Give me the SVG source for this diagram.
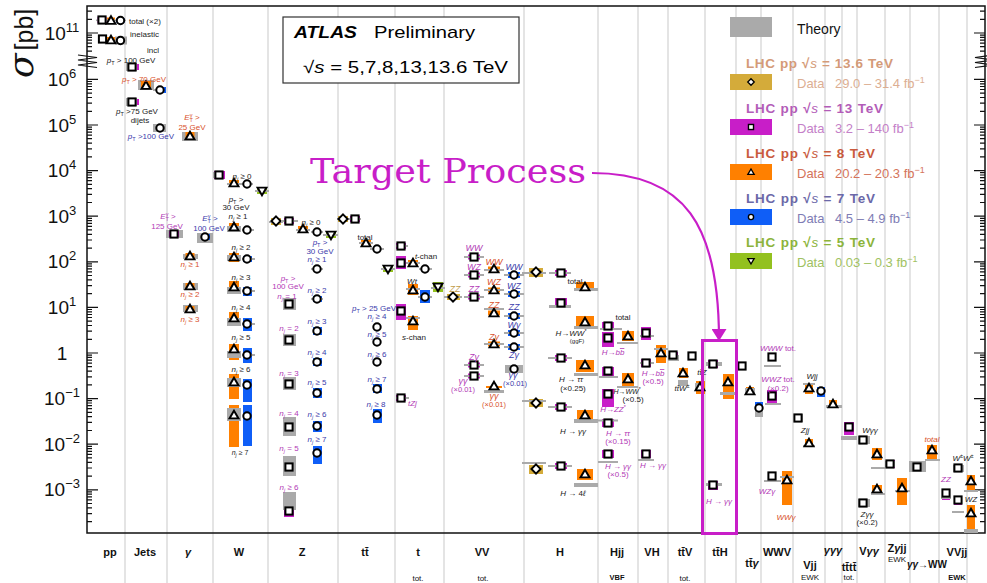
<svg xmlns="http://www.w3.org/2000/svg" width="987" height="583" viewBox="0 0 987 583">
<style>
svg{font-family:"Liberation Sans",Arial,sans-serif}
.th{fill:#aaaaaa}
.c6{fill:#d4ab3a}
.c3{fill:#c81ec8}
.c8{fill:#ff8000}
.c7{fill:#0f5ef7}
.c5{fill:#93c11f}
.sep{stroke:#dedede;stroke-width:1.6;fill:none}
.fr{stroke:#111;stroke-width:1.5;fill:none}
.tk{stroke:#111;stroke-width:1.2;fill:none}
.yl{font-size:19px;text-anchor:middle;fill:#111}
.cat{font-size:11px;font-weight:bold;text-anchor:middle;fill:#111}
.sm{font-size:8px;text-anchor:middle;fill:#111}
.l{font-size:8px;text-anchor:middle}
.l9{font-size:9px;text-anchor:middle;font-style:italic}
.i{font-style:italic}
.k{fill:#222}
.m{fill:#b23ab6}
.r{fill:#d8512c}
.b{fill:#3b3bab}
.g{fill:#c09a48}
.lt{font-size:13.5px;font-weight:bold}
.ld{font-size:13px}
</style>
<defs>
<rect id="sq" x="-3.6" y="-3.6" width="7.2" height="7.2" fill="#fff" stroke="#000" stroke-width="2"/>
<path id="tr" d="M0,-4.3 L4.5,3.4 L-4.5,3.4Z" fill="#fff" stroke="#000" stroke-width="1.9"/>
<circle id="ci" r="3.7" fill="#fff" stroke="#000" stroke-width="2"/>
<path id="di" d="M0,-4.6 L4.6,0 L0,4.6 L-4.6,0Z" fill="#fff" stroke="#000" stroke-width="1.9"/>
<path id="it" d="M0,4.3 L4.5,-3.4 L-4.5,-3.4Z" fill="#fff" stroke="#000" stroke-width="1.9"/>
<marker id="ah" viewBox="0 0 12 15" refX="11" refY="7.5" markerWidth="12" markerHeight="15" orient="auto" markerUnits="userSpaceOnUse">
<path d="M0,0 L12,7.5 L0,15Z" fill="#c81ec8"/>
</marker>
<g id="ticks">
<path class="tk" d="M87,33h11M87,79.4h11M87,125h11M87,170.6h11M87,216.2h11M87,261.8h11M87,307.4h11M87,353h11M87,398.6h11M87,444.2h11M87,489.8h11"/>
<path class="tk" d="M87,11.2h5M87,19.3h5M87,35.1h5M87,37.4h5M87,40.1h5M87,43.1h5M87,46.7h5M87,51.1h5M87,81.5h5M87,83.8h5M87,86.5h5M87,89.5h5M87,93.1h5M87,97.5h5M87,103.2h5M87,111.3h5M87,127.1h5M87,129.4h5M87,132.1h5M87,135.1h5M87,138.7h5M87,143.1h5M87,148.8h5M87,156.9h5M87,172.7h5M87,175h5M87,177.7h5M87,180.7h5M87,184.3h5M87,188.7h5M87,194.4h5M87,202.5h5M87,218.3h5M87,220.6h5M87,223.3h5M87,226.3h5M87,229.9h5M87,234.3h5M87,240h5M87,248.1h5M87,263.9h5M87,266.2h5M87,268.9h5M87,271.9h5M87,275.5h5M87,279.9h5M87,285.6h5M87,293.7h5M87,309.5h5M87,311.8h5M87,314.5h5M87,317.5h5M87,321.1h5M87,325.5h5M87,331.2h5M87,339.3h5M87,355.1h5M87,357.4h5M87,360.1h5M87,363.1h5M87,366.7h5M87,371.1h5M87,376.8h5M87,384.9h5M87,400.7h5M87,403h5M87,405.7h5M87,408.7h5M87,412.3h5M87,416.7h5M87,422.4h5M87,430.5h5M87,446.3h5M87,448.6h5M87,451.3h5M87,454.3h5M87,457.9h5M87,462.3h5M87,468h5M87,476.1h5M87,491.9h5M87,494.2h5M87,496.9h5M87,499.9h5M87,503.5h5M87,507.9h5M87,513.6h5M87,521.7h5"/>
<rect x="84" y="55" width="8" height="13" fill="#fff"/>
<polyline points="78,55 97,57.5 78,60 97,62.5 78,65 97,67.5" fill="none" stroke="#111" stroke-width="1.2"/>
</g>
</defs>

<rect width="987" height="583" fill="#fff"/>

<g id="grid">
<path class="sep" d="M125,6V583M167,6V583M213,6V583M268,6V583M338,6V583M395,6V583M444,6V583M524,6V583M598,6V583M638,6V583M668,6V583M705,6V583M736,6V583M761,6V583M793,6V583M825,6V583M842,6V583M857,6V583M885,6V583M910,6V583M939,6V583M967,6V583"/>
</g>

<g id="axes">
<use href="#ticks"/>
<use href="#ticks" transform="translate(1072,0) scale(-1,1)"/>
<path class="fr" d="M87,6H985V533H87Z"/>
<text class="yl" x="62" y="40">10<tspan font-size="13" dy="-8">11</tspan></text>
<text class="yl" x="62" y="86">10<tspan font-size="13" dy="-8">6</tspan></text>
<text class="yl" x="62" y="132">10<tspan font-size="13" dy="-8">5</tspan></text>
<text class="yl" x="62" y="177">10<tspan font-size="13" dy="-8">4</tspan></text>
<text class="yl" x="62" y="223">10<tspan font-size="13" dy="-8">3</tspan></text>
<text class="yl" x="62" y="268">10<tspan font-size="13" dy="-8">2</tspan></text>
<text class="yl" x="62" y="314">10<tspan font-size="13" dy="-8">1</tspan></text>
<text class="yl" x="62" y="360">1</text>
<text class="yl" x="62" y="405">10<tspan font-size="13" dy="-8">−1</tspan></text>
<text class="yl" x="62" y="451">10<tspan font-size="13" dy="-8">−2</tspan></text>
<text class="yl" x="62" y="496">10<tspan font-size="13" dy="-8">−3</tspan></text>
<text transform="translate(33,78) rotate(-90)" fill="#111"><tspan font-family="'DejaVu Serif',serif" font-style="italic" font-size="36">σ</tspan><tspan font-size="25" dx="3">[pb]</tspan></text>
<text class="cat" x="110" y="556">pp</text>
<text class="cat" x="145" y="556">Jets</text>
<text class="cat i" x="188" y="556">γ</text>
<text class="cat" x="239" y="556">W</text>
<text class="cat" x="302" y="556">Z</text>
<text class="cat" x="365" y="556">tt&#x304;</text>
<text class="cat" x="418" y="556">t</text>
<text class="cat" x="482" y="556">VV</text>
<text class="cat" x="560" y="556">H</text>
<text class="cat" x="617" y="556">Hjj</text>
<text class="cat" x="652" y="556">VH</text>
<text class="cat" x="685" y="556">tt&#x304;V</text>
<text class="cat" x="720" y="556">tt&#x304;H</text>
<text class="cat" x="777" y="556">WWV</text>
<text class="cat i" x="833" y="554">γγγ</text>
<text class="cat" x="869" y="555">V<tspan class="i">γγ</tspan></text>
<text class="cat" x="897" y="552">Z<tspan class="i">γ</tspan>jj</text>
<text class="cat" x="957" y="556">VVjj</text>
<text class="cat" x="752" y="567">tt&#x304;<tspan class="i">γ</tspan></text>
<text class="cat" x="810" y="569">Vjj</text>
<text class="cat" x="849" y="571">tt&#x304;tt&#x304;</text>
<text class="cat" x="927" y="568" style="font-size:10px"><tspan class="i">γγ</tspan>→WW</text>
<text class="sm" x="418" y="581">tot.</text>
<text class="sm" x="483" y="581">tot.</text>
<text class="sm" x="617" y="580" style="font-size:7.5px;font-weight:bold">VBF</text>
<text class="sm" x="685" y="581">tot.</text>
<text class="sm" x="810" y="580">EWK</text>
<text class="sm" x="849" y="580">tot.</text>
<text class="sm" x="897" y="562">EWK</text>
<text class="sm" x="957" y="580" style="font-size:7.5px;font-weight:bold">EWK</text>
</g>

<g id="atlas-box">
<rect x="283" y="17" width="236" height="66" fill="#fff" stroke="#333" stroke-width="1.2"/>
<text x="294" y="38" font-size="17" font-weight="bold" font-style="italic" textLength="63" lengthAdjust="spacingAndGlyphs" fill="#000">ATLAS</text>
<text x="374" y="38" font-size="17" textLength="101" lengthAdjust="spacingAndGlyphs" fill="#000">Preliminary</text>
<text x="303" y="73" font-size="17" textLength="205" lengthAdjust="spacingAndGlyphs" fill="#000">√<tspan class="i">s</tspan> = 5,7,8,13,13.6 TeV</text>
</g>

<g id="n-pp">
<rect class="c3" x="97.5" y="17" width="9" height="6"/><rect class="c8" x="107" y="17.5" width="8" height="6"/><rect class="c7" x="116.5" y="18" width="8" height="5"/>
<rect class="th" x="96" y="19.5" width="30" height="1.6"/>
<rect class="c3" x="98" y="36" width="9" height="6"/><rect class="c8" x="107" y="37" width="8" height="6"/><rect class="c7" x="116" y="37.5" width="9" height="6"/>
<rect class="th" x="115" y="36.5" width="12" height="8"/>
<use href="#sq" x="102" y="20"/><use href="#tr" x="111" y="20.5"/><use href="#ci" x="120.5" y="20.5"/>
<use href="#sq" x="102.5" y="39"/><use href="#tr" x="111" y="40"/><use href="#ci" x="120.5" y="40.5"/>
<text class="l k" x="129" y="24" style="text-anchor:start">total (×2)</text>
<text class="l k" x="130" y="37" style="text-anchor:start">inelastic</text>
</g>

<g id="n-jets">
<rect class="c3" x="127" y="64" width="12" height="6"/><rect class="th" x="126" y="63" width="11" height="8"/><use href="#sq" x="132" y="67"/>
<rect class="th" x="138" y="80" width="16" height="10"/><rect class="c8" x="141" y="81" width="10" height="8"/><use href="#tr" x="146" y="85.5"/>
<rect class="c7" x="157" y="87" width="9" height="6"/><rect class="th" x="153" y="89" width="6" height="2"/><use href="#ci" x="160" y="90"/>
<rect class="c3" x="127" y="99" width="12" height="6"/><rect class="th" x="126" y="98" width="11" height="8"/><use href="#sq" x="132" y="102"/>
<rect class="th" x="153" y="124" width="13" height="8"/><use href="#ci" x="160" y="128"/>
<text class="l k" x="153" y="53">incl</text>
<text class="l k" x="131" y="63"><tspan class="i">p</tspan><tspan font-size="5.5" dy="1.5">T</tspan><tspan dy="-1.5"> &gt; 100 GeV</tspan></text>
<text class="l r" x="144" y="82"><tspan class="i">p</tspan><tspan font-size="5.5" dy="1.5">T</tspan><tspan dy="-1.5"> &gt; 70 GeV</tspan></text>
<text class="l k" x="137" y="114"><tspan class="i">p</tspan><tspan font-size="5.5" dy="1.5">T</tspan><tspan dy="-1.5"> &gt;75 GeV</tspan></text>
<text class="l k" x="140" y="123">dijets</text>
<text class="l b" x="151" y="139"><tspan class="i">p</tspan><tspan font-size="5.5" dy="1.5">T</tspan><tspan dy="-1.5"> &gt;100 GeV</tspan></text>
</g>

<g id="n-gamma">
<rect class="th" x="182" y="132" width="16" height="9"/><rect class="c8" x="185.5" y="132" width="9" height="7"/><use href="#tr" x="190" y="136"/>
<rect class="th" x="166" y="230" width="17" height="8"/><rect class="c3" x="169" y="231" width="10" height="6"/><use href="#sq" x="174" y="234"/>
<rect class="th" x="197" y="233" width="16" height="10"/><rect class="c7" x="201" y="234" width="9" height="6"/><use href="#ci" x="205" y="237"/>
<rect class="th" x="183" y="254" width="15" height="5"/><rect class="c8" x="185.5" y="253" width="9" height="7"/><use href="#tr" x="190" y="256"/>
<rect class="th" x="183" y="283" width="15" height="7"/><rect class="c8" x="185.5" y="283" width="9" height="7"/><use href="#tr" x="190" y="286"/>
<rect class="th" x="183" y="305" width="15" height="7"/><rect class="c8" x="185.5" y="306" width="9" height="7"/><use href="#tr" x="190" y="309"/>
<text class="l r" x="192" y="120"><tspan class="i">E</tspan><tspan font-size="5.5" dy="-3">γ</tspan><tspan font-size="5.5" dx="-3" dy="5">T</tspan><tspan dy="-2"> &gt;</tspan></text>
<text class="l r" x="192" y="130">25 GeV</text>
<text class="l m" x="168" y="219"><tspan class="i">E</tspan><tspan font-size="5.5" dy="-3">γ</tspan><tspan font-size="5.5" dx="-3" dy="5">T</tspan><tspan dy="-2"> &gt;</tspan></text>
<text class="l m" x="167" y="229">125 GeV</text>
<text class="l b" x="210" y="221"><tspan class="i">E</tspan><tspan font-size="5.5" dy="-3">γ</tspan><tspan font-size="5.5" dx="-3" dy="5">T</tspan><tspan dy="-2"> &gt;</tspan></text>
<text class="l b" x="209" y="231">100 GeV</text>
<text class="l r" x="190" y="267"><tspan class="i">n</tspan><tspan class="i" font-size="5.5" dy="1.5">j</tspan><tspan dy="-1.5"> ≥ 1</tspan></text>
<text class="l r" x="190" y="297"><tspan class="i">n</tspan><tspan class="i" font-size="5.5" dy="1.5">j</tspan><tspan dy="-1.5"> ≥ 2</tspan></text>
<text class="l r" x="190" y="322"><tspan class="i">n</tspan><tspan class="i" font-size="5.5" dy="1.5">j</tspan><tspan dy="-1.5"> ≥ 3</tspan></text>
</g>

<g id="n-W">
<rect class="c3" x="214" y="171" width="11" height="8"/><rect class="th" x="213" y="172" width="10" height="6"/><use href="#sq" x="219" y="175"/>
<rect class="c8" x="229" y="180" width="10" height="7"/><rect class="th" x="227" y="183" width="14" height="2"/><use href="#tr" x="234" y="183"/>
<rect class="th" x="241" y="183" width="12" height="2"/><use href="#ci" x="247" y="184"/>
<rect class="c5" x="257" y="188" width="10" height="6"/><rect class="th" x="255" y="190" width="14" height="2"/><use href="#it" x="262" y="191"/>
<rect class="c8" x="229" y="223" width="10" height="8"/><rect class="th" x="227" y="226" width="14" height="6"/><use href="#tr" x="234" y="227"/>
<rect class="th" x="242" y="229" width="12" height="2"/><use href="#ci" x="247" y="230"/>
<rect class="c8" x="229" y="253" width="10" height="9"/><rect class="th" x="227" y="255" width="14" height="6"/><use href="#tr" x="234" y="257"/>
<rect class="c7" x="243" y="256" width="9" height="6"/><rect class="th" x="242" y="258" width="13" height="2"/><use href="#ci" x="247" y="259"/>
<rect class="c8" x="229" y="281" width="10" height="13"/><rect class="th" x="227" y="287" width="14" height="7"/><use href="#tr" x="234" y="287"/>
<rect class="c7" x="243" y="287" width="9" height="9"/><rect class="th" x="242" y="290" width="13" height="2"/><use href="#ci" x="247" y="291"/>
<rect class="c8" x="229" y="312" width="10" height="12"/><rect class="th" x="227" y="318" width="14" height="8"/><use href="#tr" x="234" y="318"/>
<rect class="c7" x="243" y="318" width="9" height="13"/><rect class="th" x="242" y="323" width="13" height="2"/><use href="#ci" x="247" y="324"/>
<rect class="c8" x="229" y="344" width="10" height="16"/><rect class="th" x="227" y="351" width="14" height="7"/><use href="#tr" x="234" y="349"/>
<rect class="c7" x="243" y="348" width="9" height="15"/><rect class="th" x="242" y="354" width="13" height="2"/><use href="#ci" x="247" y="355"/>
<rect class="c8" x="229" y="374" width="10" height="25"/><rect class="th" x="227" y="378" width="14" height="9"/><use href="#tr" x="234" y="382"/>
<rect class="c7" x="243" y="379" width="9" height="23"/><use href="#ci" x="247" y="385"/>
<rect class="c8" x="229" y="405" width="10" height="42"/><rect class="th" x="227" y="408" width="14" height="13"/><use href="#tr" x="234" y="415"/>
<rect class="c7" x="243" y="405" width="9" height="41"/><use href="#ci" x="247" y="416"/>
<text class="l k" x="242" y="179"><tspan class="i">n</tspan><tspan class="i" font-size="5.5" dy="1.5">j</tspan><tspan dy="-1.5"> ≥ 0</tspan></text>
<text class="l k" x="236" y="202"><tspan class="i">p</tspan><tspan font-size="5.5" dy="1.5">T</tspan><tspan dy="-1.5"> &gt;</tspan></text>
<text class="l k" x="236" y="210">30 GeV</text>
<text class="l k" x="238" y="219"><tspan class="i">n</tspan><tspan class="i" font-size="5.5" dy="1.5">j</tspan><tspan dy="-1.5"> ≥ 1</tspan></text>
<text class="l k" x="241" y="250"><tspan class="i">n</tspan><tspan class="i" font-size="5.5" dy="1.5">j</tspan><tspan dy="-1.5"> ≥ 2</tspan></text>
<text class="l k" x="241" y="280"><tspan class="i">n</tspan><tspan class="i" font-size="5.5" dy="1.5">j</tspan><tspan dy="-1.5"> ≥ 3</tspan></text>
<text class="l k" x="241" y="310"><tspan class="i">n</tspan><tspan class="i" font-size="5.5" dy="1.5">j</tspan><tspan dy="-1.5"> ≥ 4</tspan></text>
<text class="l k" x="241" y="340"><tspan class="i">n</tspan><tspan class="i" font-size="5.5" dy="1.5">j</tspan><tspan dy="-1.5"> ≥ 5</tspan></text>
<text class="l k" x="241" y="372"><tspan class="i">n</tspan><tspan class="i" font-size="5.5" dy="1.5">j</tspan><tspan dy="-1.5"> ≥ 6</tspan></text>
<text class="l k" x="240" y="455" style="font-size:7px"><tspan class="i">n</tspan><tspan class="i" font-size="5" dy="1.5">j</tspan><tspan dy="-1.5"> ≥ 7</tspan></text>
</g>

<g id="n-Z">
<rect class="c6" x="271" y="218" width="10" height="7"/><rect class="th" x="269" y="221" width="14" height="2"/><use href="#di" x="276" y="221"/>
<rect class="c3" x="284" y="218" width="10" height="6"/><rect class="th" x="281" y="220" width="17" height="2"/><use href="#sq" x="289" y="221"/>
<rect class="c8" x="298" y="226" width="10" height="6"/><rect class="th" x="296" y="229" width="14" height="2"/><use href="#tr" x="303" y="229"/>
<rect class="th" x="311" y="231" width="12" height="2"/><use href="#ci" x="317" y="232"/>
<rect class="c5" x="326" y="232" width="10" height="6"/><rect class="th" x="323" y="234" width="15" height="2"/><use href="#it" x="331" y="235"/>
<rect class="th" x="311" y="268" width="12" height="2"/><use href="#ci" x="317" y="269"/>
<rect class="c3" x="284" y="300" width="10" height="7"/><rect class="th" x="283" y="298" width="13" height="12"/><use href="#sq" x="289" y="304"/>
<rect class="c7" x="313" y="296" width="9" height="6"/><rect class="th" x="311" y="298" width="12" height="2"/><use href="#ci" x="317" y="299"/>
<rect class="th" x="283" y="334" width="13" height="12"/><use href="#sq" x="289" y="340"/>
<rect class="c7" x="313" y="327" width="9" height="8"/><use href="#ci" x="317" y="331"/>
<rect class="c7" x="313" y="358" width="9" height="8"/><use href="#ci" x="317" y="362"/>
<rect class="th" x="283" y="377" width="13" height="13"/><use href="#sq" x="289" y="384"/>
<rect class="c7" x="313" y="388" width="9" height="10"/><use href="#ci" x="317" y="393"/>
<rect class="th" x="283" y="417" width="13" height="19"/><use href="#sq" x="289" y="427"/>
<rect class="c7" x="313" y="421" width="9" height="11"/><use href="#ci" x="317" y="426"/>
<rect class="c7" x="313" y="446" width="9" height="18"/><use href="#ci" x="317" y="453"/>
<rect class="th" x="283" y="456" width="13" height="20"/><use href="#sq" x="289" y="467"/>
<rect class="c3" x="284" y="505" width="10" height="12"/><rect class="th" x="283" y="492" width="13" height="18"/><use href="#sq" x="289" y="511"/>
<text class="l k" x="311" y="225"><tspan class="i">n</tspan><tspan class="i" font-size="5.5" dy="1.5">j</tspan><tspan dy="-1.5"> ≥ 0</tspan></text>
<text class="l b" x="320" y="245"><tspan class="i">p</tspan><tspan font-size="5.5" dy="1.5">T</tspan><tspan dy="-1.5"> &gt;</tspan></text>
<text class="l b" x="320" y="254">30 GeV</text>
<text class="l b" x="317" y="262"><tspan class="i">n</tspan><tspan class="i" font-size="5.5" dy="1.5">j</tspan><tspan dy="-1.5"> ≥ 1</tspan></text>
<text class="l m" x="288" y="281"><tspan class="i">p</tspan><tspan font-size="5.5" dy="1.5">T</tspan><tspan dy="-1.5"> &gt;</tspan></text>
<text class="l m" x="288" y="289">100 GeV</text>
<text class="l m" x="287" y="299"><tspan class="i">n</tspan><tspan class="i" font-size="5.5" dy="1.5">j</tspan><tspan dy="-1.5"> = 1</tspan></text>
<text class="l b" x="317" y="293"><tspan class="i">n</tspan><tspan class="i" font-size="5.5" dy="1.5">j</tspan><tspan dy="-1.5"> ≥ 2</tspan></text>
<text class="l m" x="289" y="331"><tspan class="i">n</tspan><tspan class="i" font-size="5.5" dy="1.5">j</tspan><tspan dy="-1.5"> = 2</tspan></text>
<text class="l b" x="317" y="324"><tspan class="i">n</tspan><tspan class="i" font-size="5.5" dy="1.5">j</tspan><tspan dy="-1.5"> ≥ 3</tspan></text>
<text class="l b" x="317" y="355"><tspan class="i">n</tspan><tspan class="i" font-size="5.5" dy="1.5">j</tspan><tspan dy="-1.5"> ≥ 4</tspan></text>
<text class="l m" x="289" y="376"><tspan class="i">n</tspan><tspan class="i" font-size="5.5" dy="1.5">j</tspan><tspan dy="-1.5"> = 3</tspan></text>
<text class="l b" x="317" y="385"><tspan class="i">n</tspan><tspan class="i" font-size="5.5" dy="1.5">j</tspan><tspan dy="-1.5"> ≥ 5</tspan></text>
<text class="l m" x="289" y="416"><tspan class="i">n</tspan><tspan class="i" font-size="5.5" dy="1.5">j</tspan><tspan dy="-1.5"> = 4</tspan></text>
<text class="l b" x="317" y="417"><tspan class="i">n</tspan><tspan class="i" font-size="5.5" dy="1.5">j</tspan><tspan dy="-1.5"> ≥ 6</tspan></text>
<text class="l b" x="317" y="442"><tspan class="i">n</tspan><tspan class="i" font-size="5.5" dy="1.5">j</tspan><tspan dy="-1.5"> ≥ 7</tspan></text>
<text class="l m" x="289" y="451"><tspan class="i">n</tspan><tspan class="i" font-size="5.5" dy="1.5">j</tspan><tspan dy="-1.5"> = 5</tspan></text>
<text class="l m" x="289" y="490"><tspan class="i">n</tspan><tspan class="i" font-size="5.5" dy="1.5">j</tspan><tspan dy="-1.5"> ≥ 6</tspan></text>
</g>

<g id="n-ttbar">
<rect class="c6" x="338" y="216" width="10" height="6"/><rect class="th" x="337" y="218" width="12" height="2"/><use href="#di" x="343" y="219"/>
<rect class="c3" x="350" y="216" width="10" height="6"/><rect class="th" x="349" y="218" width="12" height="2"/><use href="#sq" x="355" y="219"/>
<rect class="c8" x="361" y="240" width="10" height="6"/><rect class="th" x="359" y="242" width="14" height="2"/><use href="#tr" x="366" y="243"/>
<rect class="th" x="370" y="248" width="14" height="2"/><use href="#ci" x="377" y="249"/>
<rect class="c5" x="383" y="266" width="10" height="6"/><rect class="th" x="381" y="268" width="14" height="2"/><use href="#it" x="388" y="269"/>
<use href="#ci" x="377" y="327"/><use href="#ci" x="377" y="342"/><use href="#ci" x="377" y="362"/>
<rect class="c7" x="373" y="384" width="9" height="9"/><use href="#ci" x="377" y="389"/>
<rect class="c7" x="373" y="409" width="9" height="14"/><use href="#ci" x="377" y="415"/>
<text class="l k" x="365" y="240">total</text>
<text class="l b" x="374" y="311"><tspan class="i">p</tspan><tspan font-size="5.5" dy="1.5">T</tspan><tspan dy="-1.5"> &gt; 25 GeV</tspan></text>
<text class="l b" x="377" y="319"><tspan class="i">n</tspan><tspan class="i" font-size="5.5" dy="1.5">j</tspan><tspan dy="-1.5"> ≥ 4</tspan></text>
<text class="l b" x="377" y="337"><tspan class="i">n</tspan><tspan class="i" font-size="5.5" dy="1.5">j</tspan><tspan dy="-1.5"> ≥ 5</tspan></text>
<text class="l b" x="377" y="357"><tspan class="i">n</tspan><tspan class="i" font-size="5.5" dy="1.5">j</tspan><tspan dy="-1.5"> ≥ 6</tspan></text>
<text class="l b" x="377" y="382"><tspan class="i">n</tspan><tspan class="i" font-size="5.5" dy="1.5">j</tspan><tspan dy="-1.5"> ≥ 7</tspan></text>
<text class="l b" x="376" y="407"><tspan class="i">n</tspan><tspan class="i" font-size="5.5" dy="1.5">j</tspan><tspan dy="-1.5"> ≥ 8</tspan></text>
</g>

<g id="n-t">
<rect class="c3" x="396" y="243" width="10" height="6"/><rect class="th" x="396" y="245" width="12" height="2"/><use href="#sq" x="401" y="246"/>
<rect class="c3" x="396" y="256" width="10" height="13"/><use href="#sq" x="401" y="263"/>
<rect class="c8" x="408" y="260" width="10" height="6"/><rect class="th" x="406" y="262" width="14" height="2"/><use href="#tr" x="413" y="263"/>
<rect class="th" x="419" y="268" width="13" height="2"/><use href="#ci" x="425" y="269"/>
<rect class="c8" x="408" y="284" width="10" height="11"/><rect class="th" x="406" y="288" width="14" height="2"/><use href="#tr" x="413" y="290"/>
<rect class="c7" x="420" y="290" width="10" height="13"/><rect class="th" x="418" y="296" width="14" height="2"/><use href="#ci" x="425" y="297"/>
<rect class="c5" x="433" y="282" width="10" height="10"/><rect class="th" x="431" y="287" width="14" height="2"/><use href="#it" x="438" y="287"/>
<rect class="c3" x="396" y="304" width="10" height="16"/><use href="#sq" x="401" y="311"/>
<rect class="c8" x="408" y="316" width="10" height="14"/><rect class="th" x="406" y="317" width="14" height="2"/><use href="#tr" x="413" y="321"/>
<rect class="c3" x="396" y="395" width="10" height="6"/><rect class="th" x="396" y="397" width="13" height="2"/><use href="#sq" x="401" y="398"/>
<text class="l k" x="426" y="259"><tspan class="i">t</tspan>-chan</text>
<text class="l k" x="412" y="284"><tspan class="i">Wt</tspan></text>
<text class="l k" x="414" y="340"><tspan class="i">s</tspan>-chan</text>
<text class="l m i" x="408" y="406" style="text-anchor:start">tZj</text>
</g>

<g id="n-VV">
<rect class="c6" x="447" y="294" width="13" height="6"/><rect class="th" x="444" y="296" width="18" height="2"/><use href="#di" x="453" y="297"/>
<rect class="c3" x="468" y="254.5" width="12" height="5"/><rect class="th" x="464" y="256" width="20" height="2"/><use href="#sq" x="474" y="257"/>
<rect class="c3" x="468" y="272.5" width="12" height="5"/><rect class="th" x="464" y="274" width="20" height="2"/><use href="#sq" x="474" y="275"/>
<rect class="c3" x="468" y="294.5" width="12" height="5"/><rect class="th" x="464" y="296" width="20" height="2"/><use href="#sq" x="474" y="297"/>
<rect class="c8" x="488" y="266.5" width="12" height="5"/><rect class="th" x="484" y="269" width="20" height="2"/><use href="#tr" x="494" y="269"/>
<rect class="c8" x="488" y="287.5" width="12" height="5"/><rect class="th" x="484" y="289" width="20" height="2"/><use href="#tr" x="494" y="290"/>
<rect class="c8" x="488" y="310.5" width="12" height="5"/><rect class="th" x="484" y="308" width="20" height="2"/><use href="#tr" x="494" y="313"/>
<rect class="c7" x="508" y="272" width="12" height="6"/><rect class="th" x="504" y="274" width="20" height="2"/><use href="#ci" x="514" y="275"/>
<rect class="c7" x="508" y="291" width="12" height="6"/><rect class="th" x="504" y="293" width="20" height="2"/><use href="#ci" x="514" y="294"/>
<rect class="c7" x="508" y="313" width="12" height="6"/><rect class="th" x="504" y="315" width="20" height="2"/><use href="#ci" x="514" y="316"/>
<rect class="c7" x="508" y="330" width="12" height="6"/><rect class="th" x="504" y="332" width="20" height="2"/><use href="#ci" x="514" y="333"/>
<rect class="c8" x="488" y="341.5" width="12" height="5"/><rect class="th" x="484" y="343" width="20" height="2"/><use href="#tr" x="494" y="344"/>
<rect class="c7" x="508" y="344" width="12" height="6"/><rect class="th" x="504" y="346" width="20" height="2"/><use href="#ci" x="514" y="347"/>
<rect class="c3" x="468" y="362.5" width="12" height="5"/><rect class="th" x="464" y="364" width="20" height="2"/><use href="#sq" x="474" y="365"/>
<rect class="c7" x="508" y="365" width="12" height="8"/><rect class="th" x="505" y="365" width="18" height="8"/><use href="#ci" x="514" y="369"/>
<rect class="c3" x="468" y="373.5" width="12" height="5"/><rect class="th" x="464" y="375" width="20" height="2"/><use href="#sq" x="474" y="376"/>
<rect class="c8" x="486" y="386" width="16" height="2"/><rect class="th" x="484" y="390" width="20" height="3"/><use href="#tr" x="494" y="386"/>
<text class="l9 g" x="455" y="292">ZZ</text>
<text class="l9 m" x="474" y="251">WW</text>
<text class="l9 m" x="474" y="270">WZ</text>
<text class="l9 m" x="474" y="292">ZZ</text>
<text class="l9 m" x="474" y="360">Zγ</text>
<text class="l9 m" x="463" y="384">γγ</text>
<text class="l m" x="463" y="392" style="font-size:7.5px">(×0.01)</text>
<text class="l9 r" x="494" y="265">WW</text>
<text class="l9 r" x="494" y="285">WZ</text>
<text class="l9 r" x="494" y="308">ZZ</text>
<text class="l9 r" x="494" y="340">Zγ</text>
<text class="l9 r" x="494" y="399">γγ</text>
<text class="l r" x="494" y="407" style="font-size:7.5px">(×0.01)</text>
<text class="l9 b" x="514" y="270">WW</text>
<text class="l9 b" x="514" y="289">WZ</text>
<text class="l9 b" x="514" y="310">ZZ</text>
<text class="l9 b" x="514" y="328">Wγ</text>
<text class="l9 b" x="514" y="358">Zγ</text>
<text class="l9 b" x="513" y="378">γγ</text>
<text class="l b" x="515" y="386" style="font-size:7.5px">(×0.01)</text>
</g>

<g id="n-H">
<rect class="c6" x="529" y="268" width="14" height="9"/><rect class="th" x="522" y="272" width="24" height="2"/><use href="#di" x="536" y="272"/>
<rect class="c3" x="555" y="270" width="12" height="6"/><rect class="th" x="549" y="272" width="22" height="2"/><use href="#sq" x="561" y="273"/>
<rect class="c8" x="576" y="282" width="18" height="8"/><rect class="th" x="574" y="288" width="24" height="3"/><use href="#tr" x="585" y="287"/>
<rect class="c3" x="555" y="298" width="12" height="10"/><rect class="th" x="549" y="305" width="22" height="3"/><use href="#sq" x="561" y="303"/>
<rect class="c8" x="576" y="316" width="18" height="12"/><rect class="th" x="574" y="326" width="24" height="3"/><use href="#tr" x="585" y="322"/>
<rect class="c3" x="555" y="355" width="12" height="6"/><rect class="th" x="548" y="357" width="24" height="2"/><use href="#sq" x="561" y="358"/>
<rect class="c8" x="576" y="360" width="18" height="12"/><rect class="th" x="574" y="373" width="24" height="3"/><use href="#tr" x="585" y="365"/>
<rect class="c6" x="529" y="399" width="14" height="8"/><rect class="th" x="522" y="400" width="24" height="2"/><use href="#di" x="536" y="403"/>
<rect class="c3" x="555" y="404" width="12" height="6"/><rect class="th" x="548" y="406" width="24" height="2"/><use href="#sq" x="561" y="407"/>
<rect class="c8" x="577" y="410" width="16" height="10"/><rect class="th" x="574" y="419" width="24" height="4"/><use href="#tr" x="585" y="415"/>
<rect class="c6" x="529" y="465" width="14" height="9"/><rect class="th" x="522" y="462" width="24" height="2"/><use href="#di" x="536" y="469"/>
<rect class="c3" x="555" y="463" width="12" height="6"/><rect class="th" x="548" y="465" width="24" height="2"/><use href="#sq" x="561" y="466"/>
<rect class="c8" x="577" y="469" width="16" height="11"/><rect class="th" x="574" y="483" width="24" height="4"/><use href="#tr" x="585" y="474"/>
<text class="l k" x="575" y="284">total</text>
<text class="l k" x="571" y="336"><tspan class="i">H</tspan>→<tspan class="i">WW</tspan><tspan font-size="5.5" dy="-3">*</tspan></text>
<text class="l k" x="577" y="343" style="font-size:6px">(ggF)</text>
<text class="l k" x="571" y="382"><tspan class="i">H</tspan> → <tspan class="i">ττ</tspan></text>
<text class="l k" x="573" y="391">(×0.25)</text>
<text class="l k" x="573" y="434"><tspan class="i">H</tspan> → <tspan class="i">γγ</tspan></text>
<text class="l k" x="573" y="496"><tspan class="i">H</tspan> → 4<tspan class="i">ℓ</tspan></text>
</g>

<g id="n-Hjj">
<rect class="c3" x="602" y="322" width="12" height="8"/><rect class="th" x="600" y="328" width="22" height="2"/><use href="#sq" x="608" y="326"/>
<rect class="c3" x="602" y="332" width="12" height="15"/><use href="#sq" x="608" y="338"/>
<rect class="c8" x="622" y="331" width="12" height="10"/><rect class="th" x="617" y="342" width="21" height="2"/><use href="#tr" x="628" y="336"/>
<rect class="c3" x="602" y="367" width="12" height="9"/><rect class="th" x="599" y="376" width="19" height="2"/><use href="#sq" x="608" y="371"/>
<rect class="c8" x="622" y="373" width="12" height="14"/><rect class="th" x="617" y="386" width="21" height="2"/><use href="#tr" x="628" y="379"/>
<rect class="c3" x="602" y="389" width="12" height="18"/><use href="#sq" x="608" y="394"/>
<rect class="c3" x="602" y="419" width="12" height="8"/><rect class="th" x="598" y="419.5" width="20" height="2"/><use href="#sq" x="608" y="423"/>
<rect class="c3" x="602" y="450" width="12" height="8"/><rect class="th" x="598" y="461" width="20" height="2"/><use href="#sq" x="608" y="454"/>
<text class="l k" x="623" y="320">total</text>
<text class="l m" x="613" y="355"><tspan class="i">H</tspan>→<tspan class="i">b</tspan><tspan class="i" text-decoration="overline">b</tspan></text>
<text class="l k" x="627" y="394" style="font-size:7px"><tspan class="i">H</tspan>→<tspan class="i">WW</tspan><tspan font-size="5" dy="-3">*</tspan></text>
<text class="l k" x="633" y="402">(×0.5)</text>
<text class="l m" x="613" y="412"><tspan class="i">H</tspan>→<tspan class="i">ZZ</tspan><tspan font-size="5.5" dy="-3">*</tspan></text>
<text class="l m" x="618" y="436"><tspan class="i">H</tspan> → <tspan class="i">ττ</tspan></text>
<text class="l m" x="618" y="444">(×0.15)</text>
<text class="l m" x="618" y="469"><tspan class="i">H</tspan> → <tspan class="i">γγ</tspan></text>
<text class="l m" x="618" y="477">(×0.5)</text>
</g>

<g id="n-VH">
<rect class="c3" x="641" y="327" width="10" height="13"/><rect class="th" x="640" y="335" width="14" height="2"/><use href="#sq" x="646" y="333"/>
<rect class="c3" x="641" y="359" width="10" height="8"/><rect class="th" x="640" y="362" width="14" height="2"/><use href="#sq" x="646" y="363"/>
<rect class="c8" x="656" y="345" width="10" height="18"/><rect class="th" x="654" y="348" width="14" height="2"/><use href="#tr" x="661" y="353"/>
<rect class="c3" x="641" y="450" width="10" height="8"/><rect class="th" x="638" y="459" width="16" height="2"/><use href="#sq" x="646" y="454"/>
<text class="l m" x="653" y="376"><tspan class="i">H</tspan>→<tspan class="i">b</tspan><tspan class="i" text-decoration="overline">b</tspan></text>
<text class="l m" x="653" y="384">(×0.5)</text>
<text class="l m" x="653" y="468"><tspan class="i">H</tspan> → <tspan class="i">γγ</tspan></text>
</g>

<g id="n-ttV">
<rect class="c3" x="669" y="352" width="9" height="6"/><rect class="th" x="668" y="355" width="11" height="6"/><use href="#sq" x="673" y="355"/>
<rect class="c3" x="688" y="353" width="8" height="6"/><use href="#sq" x="692" y="356"/>
<rect class="c8" x="679" y="368" width="9" height="10"/><rect class="th" x="678" y="380" width="10" height="6"/><use href="#tr" x="683" y="373"/>
<rect class="c8" x="696" y="381" width="9" height="13"/><rect class="th" x="695" y="383" width="9" height="6"/><use href="#tr" x="700" y="387"/>
<text class="l k i" x="682" y="391">tt&#x304;W<tspan font-size="5.5" dy="-3">±</tspan></text>
<text class="l k i" x="702" y="375">tt&#x304;Z</text>
</g>

<g id="n-ttH">
<rect class="c3" x="708" y="360" width="10" height="8"/><rect class="th" x="706" y="362" width="16" height="4"/><use href="#sq" x="713" y="364"/>
<rect class="c8" x="723" y="374" width="11" height="25"/><rect class="th" x="720" y="392" width="16" height="3"/><use href="#tr" x="728" y="382"/>
<rect class="c3" x="708" y="481" width="10" height="9"/><rect class="th" x="706" y="483" width="16" height="3"/><use href="#sq" x="713" y="485"/>
<text class="l m" x="719" y="504"><tspan class="i">H</tspan> → <tspan class="i">γγ</tspan></text>
</g>

<g id="n-ttgamma">
<rect class="c3" x="738" y="363" width="8" height="6"/><rect class="th" x="738" y="363" width="8" height="7"/><use href="#sq" x="742" y="366"/>
<rect class="c8" x="746" y="387" width="8" height="8"/><rect class="th" x="745" y="388" width="10" height="6"/><use href="#tr" x="750" y="391"/>
<rect class="c7" x="755" y="402" width="8" height="11"/><rect class="th" x="755" y="408" width="8" height="9"/><use href="#ci" x="759" y="408"/>
</g>

<g id="n-WWV">
<rect class="c3" x="768" y="354" width="8" height="6"/><rect class="th" x="764" y="365" width="17" height="2"/><use href="#sq" x="772" y="357"/>
<rect class="c3" x="767" y="390" width="10" height="15"/><rect class="th" x="765" y="403" width="16" height="2"/><use href="#sq" x="772" y="396"/>
<rect class="c3" x="768" y="473" width="8" height="6"/><rect class="th" x="764" y="480" width="17" height="2"/><use href="#sq" x="772" y="476"/>
<rect class="c8" x="782" y="471" width="10" height="34"/><rect class="th" x="780" y="476" width="14" height="2"/><use href="#tr" x="787" y="480"/>
<text class="l m" x="778" y="351"><tspan class="i">WWW</tspan> tot.</text>
<text class="l m" x="778" y="382"><tspan class="i">WWZ</tspan> tot.</text>
<text class="l m" x="778" y="391">(×0.2)</text>
<text class="l m i" x="767" y="494">WZγ</text>
<text class="l r i" x="786" y="520">WWγ</text>
</g>

<g id="n-Vjj">
<rect class="c8" x="805" y="384" width="8" height="10"/><rect class="th" x="803" y="383" width="12" height="2"/><use href="#tr" x="809" y="388"/>
<rect class="c7" x="817" y="387" width="8" height="10"/><use href="#ci" x="821" y="391"/>
<rect class="c3" x="794" y="415" width="8" height="6"/><rect class="th" x="794" y="414" width="9" height="8"/><use href="#sq" x="798" y="418"/>
<rect class="c8" x="805" y="439" width="8" height="8"/><rect class="th" x="803" y="445" width="12" height="2"/><use href="#tr" x="809" y="443"/>
<text class="l k i" x="812" y="379">Wjj</text>
<text class="l k i" x="805" y="433">Zjj</text>
</g>

<g id="n-ggg">
<rect class="c8" x="829" y="400" width="8" height="8"/><rect class="th" x="826" y="405" width="16" height="3"/><use href="#tr" x="833" y="404"/>
</g>

<g id="n-tttt">
<rect class="c3" x="844" y="422" width="10" height="13"/><rect class="th" x="841" y="436" width="16" height="4"/><use href="#sq" x="849" y="427"/>
</g>

<g id="n-Vgg">
<rect class="c3" x="859" y="437" width="8" height="6"/><rect class="th" x="858" y="436" width="12" height="8"/><use href="#sq" x="863" y="440"/>
<rect class="c8" x="872" y="448" width="10" height="12"/><rect class="th" x="871" y="467" width="14" height="2"/><use href="#tr" x="877" y="454"/>
<rect class="c8" x="872" y="485" width="10" height="8"/><rect class="th" x="871" y="493" width="14" height="2"/><use href="#tr" x="877" y="489"/>
<rect class="c3" x="859" y="500" width="8" height="6"/><rect class="th" x="858" y="499" width="12" height="8"/><use href="#sq" x="863" y="503"/>
<text class="l k i" x="870" y="433">Wγγ</text>
<text class="l k i" x="867" y="517">Zγγ</text>
<text class="l k" x="867" y="525">(×0.2)</text>
</g>

<g id="n-Zgjj">
<rect class="c3" x="886" y="460" width="9" height="8"/><rect class="th" x="885" y="461" width="10" height="6"/><use href="#sq" x="890" y="464"/>
<rect class="c8" x="897" y="478" width="10" height="27"/><rect class="th" x="895" y="490" width="15" height="2"/><use href="#tr" x="902" y="488"/>
</g>

<g id="n-ggWW">
<rect class="c3" x="913" y="464" width="8" height="6"/><rect class="th" x="909" y="461" width="17" height="11"/><use href="#sq" x="917" y="467"/>
<rect class="c8" x="927" y="445" width="10" height="15"/><rect class="th" x="925" y="459" width="15" height="2"/><use href="#tr" x="932" y="450"/>
<text class="l r i" x="932" y="442">total</text>
</g>

<g id="n-VVjj">
<rect class="c3" x="954" y="465" width="8" height="6"/><rect class="th" x="953" y="465" width="11" height="7"/><use href="#sq" x="958" y="468"/>
<rect class="c8" x="967" y="475" width="8" height="17"/><rect class="th" x="964" y="490" width="14" height="2"/><use href="#tr" x="971" y="481"/>
<rect class="c3" x="942" y="489" width="8" height="11"/><rect class="th" x="941" y="497" width="10" height="2"/><use href="#sq" x="946" y="493"/>
<rect class="c3" x="954" y="496" width="8" height="9"/><rect class="th" x="952" y="511" width="12" height="2"/><use href="#sq" x="958" y="500"/>
<rect class="c8" x="967" y="505" width="8" height="25"/><rect class="th" x="964" y="529" width="14" height="4"/><use href="#tr" x="971" y="513"/>
<text class="l k i" x="963" y="461">W<tspan font-size="5.5" dy="-3">±</tspan><tspan dy="3">W</tspan><tspan font-size="5.5" dy="-3">±</tspan></text>
<text class="l m i" x="946" y="482">ZZ</text>
<text class="l k i" x="971" y="502">WZ</text>
</g>

<g id="legend">
<rect class="th" x="730" y="17" width="42" height="20"/>
<text x="797" y="34" font-size="14" fill="#111">Theory</text>
<text class="lt" x="746" y="68" fill="#d49a78" textLength="147" lengthAdjust="spacing">LHC pp  √<tspan font-style="italic" font-weight="normal">s</tspan> = 13.6 TeV</text>
<rect class="c6" x="730" y="74" width="42" height="16"/><use href="#di" transform="translate(751,82) scale(0.7)"/>
<text class="ld" x="797" y="88" fill="#dcae92">Data<tspan x="835">29.0 – 31.4 fb</tspan><tspan font-size="9" dy="-5">−1</tspan></text>
<text class="lt" x="746" y="113" fill="#b35cb8" textLength="137" lengthAdjust="spacing">LHC pp  √<tspan font-style="italic" font-weight="normal">s</tspan> = 13 TeV</text>
<rect class="c3" x="730" y="119" width="42" height="16"/><use href="#sq" transform="translate(751,127) scale(0.7)"/>
<text class="ld" x="797" y="133" fill="#c480c8">Data<tspan x="835">3.2 – 140 fb</tspan><tspan font-size="9" dy="-5">−1</tspan></text>
<text class="lt" x="746" y="158" fill="#c95a3d" textLength="129" lengthAdjust="spacing">LHC pp  √<tspan font-style="italic" font-weight="normal">s</tspan> = 8 TeV</text>
<rect class="c8" x="730" y="164" width="42" height="16"/><use href="#tr" transform="translate(751,172) scale(0.7)"/>
<text class="ld" x="797" y="178" fill="#d4735a">Data<tspan x="835">20.2 – 20.3 fb</tspan><tspan font-size="9" dy="-5">−1</tspan></text>
<text class="lt" x="746" y="203" fill="#6b68a8" textLength="129" lengthAdjust="spacing">LHC pp  √<tspan font-style="italic" font-weight="normal">s</tspan> = 7 TeV</text>
<rect class="c7" x="730" y="209" width="42" height="16"/><use href="#ci" transform="translate(751,217) scale(0.7)"/>
<text class="ld" x="797" y="223" fill="#7e7cb4">Data<tspan x="835">4.5 – 4.9 fb</tspan><tspan font-size="9" dy="-5">−1</tspan></text>
<text class="lt" x="746" y="247" fill="#8cb43a" textLength="129" lengthAdjust="spacing">LHC pp  √<tspan font-style="italic" font-weight="normal">s</tspan> = 5 TeV</text>
<rect class="c5" x="730" y="253" width="42" height="16"/><use href="#it" transform="translate(751,261) scale(0.7)"/>
<text class="ld" x="797" y="267" fill="#a0c262">Data<tspan x="835">0.03 – 0.3 fb</tspan><tspan font-size="9" dy="-5">−1</tspan></text>
</g>

<g id="n-target">
<text x="310" y="183" font-family="'DejaVu Serif',serif" font-size="34" fill="#c81ec8" textLength="276" lengthAdjust="spacingAndGlyphs">Target Process</text>
<rect x="702.5" y="340.5" width="34" height="193" fill="none" stroke="#c81ec8" stroke-width="3"/>
</g>

<g id="connectors">
<path d="M592,173 C685,173 719,225 719,340" fill="none" stroke="#c81ec8" stroke-width="2.2" marker-end="url(#ah)"/>
</g>
</svg>
